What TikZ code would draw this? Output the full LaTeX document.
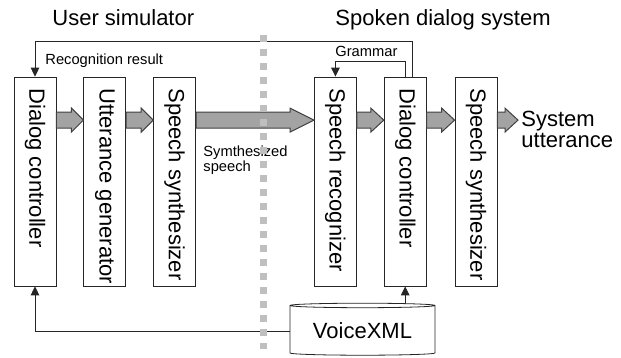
\documentclass[tikz,border=0pt]{standalone}
\usepackage{fontspec}
\setmainfont{Liberation Sans}
\usepackage{graphicx}
\usetikzlibrary{positioning, arrows.meta, shapes.geometric, calc}

\newcommand\bigfont{\fontsize{11}{10.6}\selectfont}
\newcommand\smallfont{\fontsize{7.35}{7.6}\selectfont}
\newcommand\vtxt[1]{\rotatebox{-90}{\makebox[93pt][l]{#1}}}
\newcommand\fatarrow[3]{%
  \draw[fatarr] let \p1=(#1.north east), \p2=(#2) in
    (\x1,\y1-17.75pt) -- (\x2-#3,\y1-17.75pt) -- (\x2-#3,\y1-15.75pt)
    -- (\x2,\y1-21.75pt) -- (\x2-#3,\y1-27.75pt) -- (\x2-#3,\y1-25.75pt)
    -- (\x1,\y1-25.75pt) -- cycle;}

\begin{document}
\begin{tikzpicture}[x=0.5pt, y=-0.5pt,
    box/.style={draw=black!85, fill=white, inner sep=0pt, minimum width=21pt,
      minimum height=104.5pt, font=\bigfont},
    title/.style={inner sep=0pt, font=\bigfont},
    lbl/.style={inner sep=0pt, font=\smallfont},
    db/.style={cylinder, shape border rotate=90, draw=black!85, fill=white,
      aspect=0.04, minimum width=72.5pt, minimum height=26pt, font=\bigfont},
    ctl/.style={draw=black!85, line width=0.5pt},
    tip/.style={-{Triangle[length=4.5pt, width=4.3pt]}},
    fatarr/.style={draw=black!75, fill=black!36, line width=0.5pt},
    divider/.style={black!25, line width=3.5pt, dash pattern=on 3.5pt off 3.5pt}
  ]
  \useasboundingbox (0,0) rectangle (621,358);

  \node[title, anchor=base west] (usim) at (52,26) {User simulator};
  \node[title, anchor=base west] (sds) at (335,26) {Spoken dialog system};

  \node[box] (dc1) at (35,181.5) {\vtxt{Dialog controller}};
  \node[box, right=13.5pt of dc1] (ug) {\vtxt{Utterance generator}};
  \node[box, right=13.5pt of ug] (ss1) {\vtxt{Speech synthesizer}};
  \node[box, right=59pt of ss1] (sr) {\vtxt{Speech recognizer}};
  \node[box, right=13.5pt of sr] (dc2) {\vtxt{Dialog controller}};
  \node[box, right=14pt of dc2] (ss2) {\vtxt{Speech synthesizer}};

  \node[db] (vxml) at (362.5,331) {VoiceXML};

  \node[lbl, anchor=base west] (rres) at (45,65) {Recognition result};
  \node[lbl, anchor=base west] (gram) at (335,57) {Grammar};
  \node[lbl, anchor=north west, align=left] (synsp) at (203,145) {Symthesized\\speech};
  \node[title, anchor=north west, align=left] (sysout) at (521,110.5) {System\\utterance};
  \coordinate (outtip) at (518,120.5);

  \fatarrow{dc1}{ug.west}{6pt}
  \fatarrow{ug}{ss1.west}{6pt}
  \fatarrow{ss1}{sr.west}{12pt}
  \fatarrow{sr}{dc2.west}{6.5pt}
  \fatarrow{dc2}{ss2.west}{6.5pt}
  \fatarrow{ss2}{outtip}{6.5pt}

  \draw[ctl, tip] ([xshift=3.5pt]dc2.north) -- ++(0,-35) -| (dc1.north);
  \draw[ctl, tip] (dc2.north) -- ++(0,-15) -| (sr.north);
  \draw[ctl, tip] (vxml.north -| dc2.south) -- (dc2.south);
  \draw[ctl, tip] (vxml.west) -| (dc1.south);

  \draw[divider] (263,35) -- (263,349);
\end{tikzpicture}
\end{document}
